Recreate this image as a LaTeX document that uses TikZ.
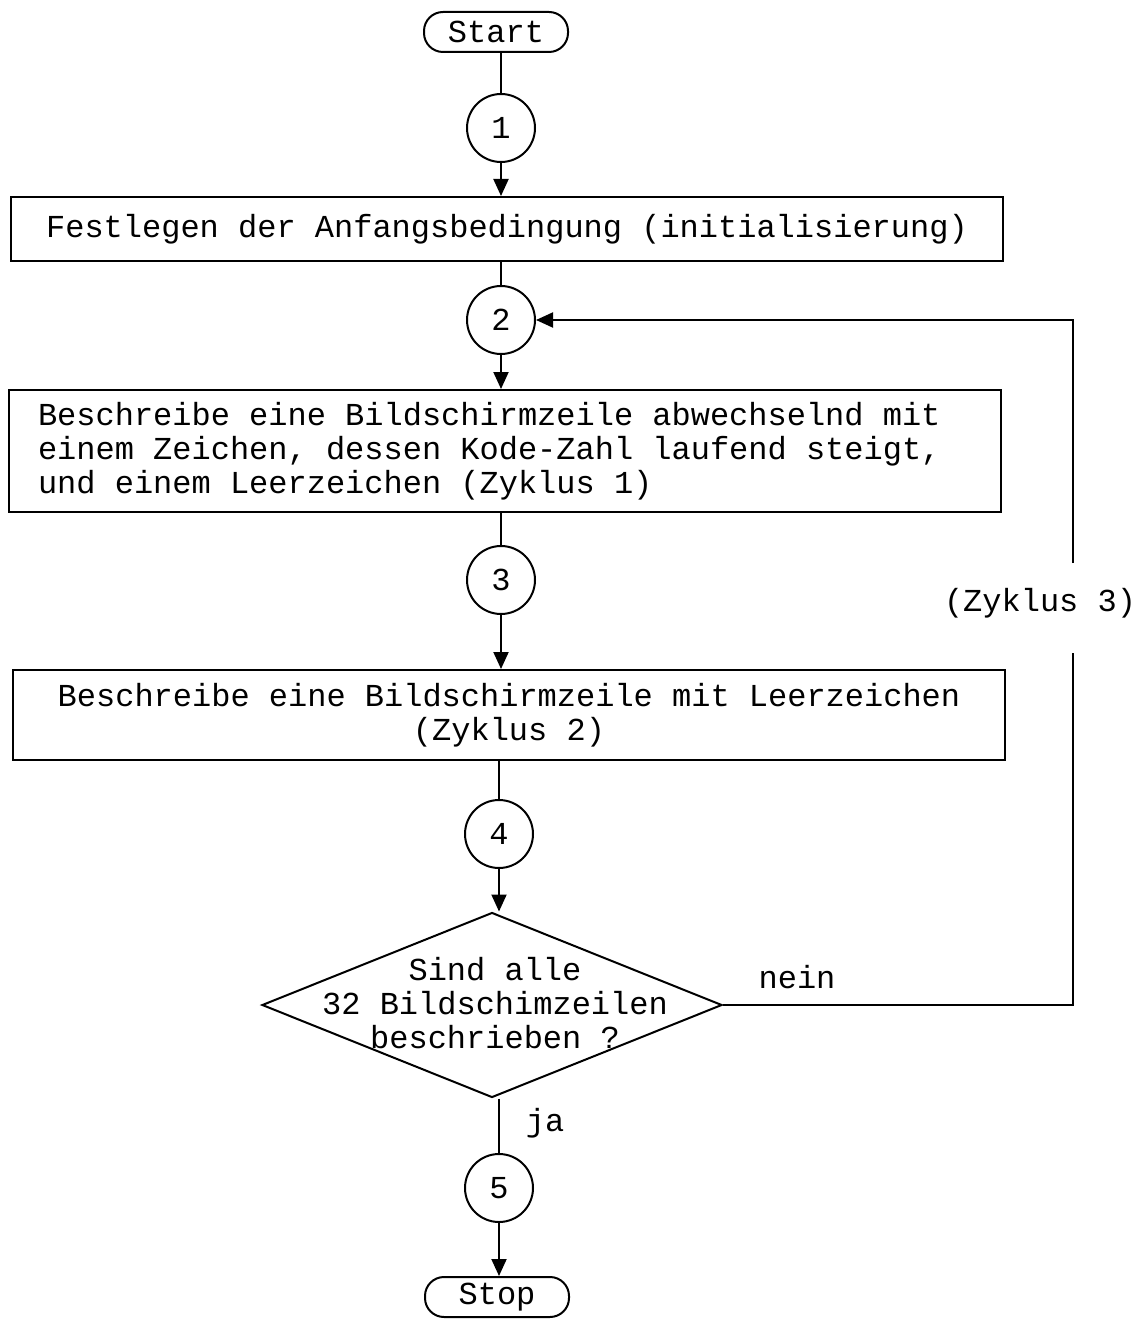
\documentclass[tikz,border=0pt]{standalone}
\usepackage{fontspec}
\setmonofont{Liberation Mono}
\usetikzlibrary{arrows.meta,shapes.geometric,positioning}
\tikzset{
  >={Triangle[length=17pt,width=15pt]},
  every node/.style={font=\ttfamily\fontsize{32pt}{34pt}\selectfont},
  term/.style={draw,rounded corners=19pt,minimum width=144pt,minimum height=40pt,inner sep=0pt},
  conn/.style={draw,circle,minimum size=68pt,inner sep=0pt},
  block/.style={draw,minimum width=992pt,inner sep=0pt},
  decision/.style={draw,diamond,minimum width=460pt,minimum height=185pt,inner sep=0pt}
}
\begin{document}
\begin{tikzpicture}[x=1pt,y=-1pt,line width=2pt]
  \useasboundingbox (0,0) rectangle (1144,1321);
  % main column
  \node[term] (start) at (496,32) {Start};
  \node[conn] (c1) at (501,128) {1};
  \node[block,minimum height=64pt] (init) at (507,229) {Festlegen der Anfangsbedingung (initialisierung)};
  \node[conn] (c2) at (501,320) {2};
  \node[block,minimum height=122pt,inner xsep=29pt,text width=934pt,align=left] (cyc1) at (505,451)
    {\spaceskip=0pt\xspaceskip=0pt Beschreibe eine Bildschirmzeile abwechselnd mit\\einem Zeichen, dessen Kode-Zahl laufend steigt,\\und einem Leerzeichen (Zyklus 1)};
  \node[conn] (c3) at (501,580) {3};
  \node[block,minimum height=90pt,align=center] (cyc2) at (509,715)
    {Beschreibe eine Bildschirmzeile mit Leerzeichen\\(Zyklus 2)};
  \node[conn] (c4) at (499,834) {4};
  \node[decision] (check) at (492,1005) {};
  \node[align=center] (checktxt) at (495,1003) {Sind alle\\32 Bildschimzeilen\\beschrieben ?};
  \node[conn] (c5) at (499,1188) {5};
  \node[term] (stop) at (497,1297) {Stop};
  % labels
  \node (nein) at (797,977) {nein};
  \node (ja) at (545,1123) {ja};
  \node (zyk3) at (1040,603) {(Zyklus 3)};
  \coordinate (gaptop) at (1073,563);
  \coordinate (gapbot) at (1073,653);
  % connectors
  \draw (start.south -| c1) -- (c1);
  \draw[->] (c1) -- (c1 |- init.north);
  \draw (c1 |- init.south) -- (c2);
  \draw[->] (c2) -- (c2 |- cyc1.north);
  \draw (c2 |- cyc1.south) -- (c3);
  \draw[->] (c3) -- (c3 |- cyc2.north);
  \draw (c4 |- cyc2.south) -- (c4);
  \draw[->] (c4) -- (c4 |- check.north);
  \draw (c5 |- check.south) -- (c5);
  \draw[->] (c5) -- (c5 |- stop.north);
  % cycle 3
  \draw (check.east) -- (check.east -| gapbot) -- (gapbot);
  \draw[->] (gaptop) -- (gaptop |- c2) -- (c2.east);
\end{tikzpicture}
\end{document}
